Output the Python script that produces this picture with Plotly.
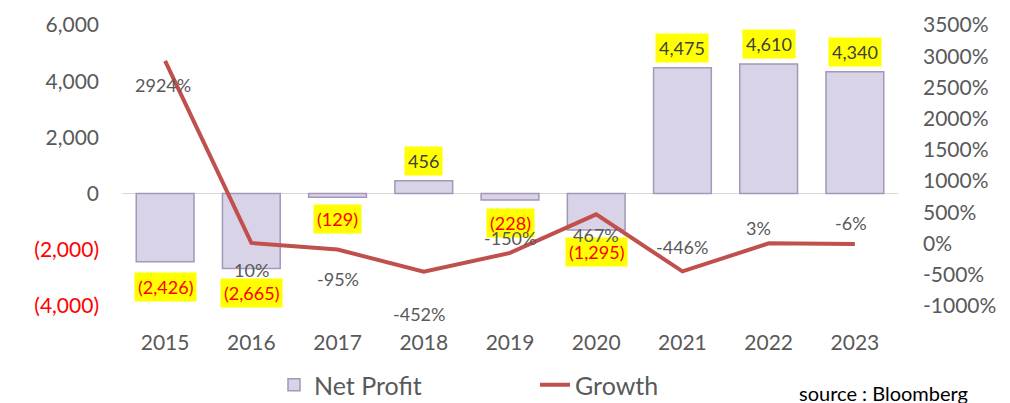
import plotly.graph_objects as go

years = ["2015", "2016", "2017", "2018", "2019", "2020", "2021", "2022", "2023"]
net_profit = [-2426, -2665, -129, 456, -228, -1295, 4475, 4610, 4340]
growth = [2924, 10, -95, -452, -150, 467, -446, 3, -6]

left_ticks = [-4000, -2000, 0, 2000, 4000, 6000]
right_ticks = [-1000, -500, 0, 500, 1000, 1500, 2000, 2500, 3000, 3500]

# label offsets (px) for readability
profit_shift = [-25, -25, -22, 20, -23, -22, 20, 20, 20]
growth_shift = [-24, -27, -30, -42, 15, -21, 24, 15, 21]
growth_xshift = [-2, 0, 0, -5, 0, 0, 0, -10, -4]

FONT = "Lato"
GRAY = "#595959"
OFF = 8  # page body offset

def fmt_profit(v):
    s = f"{abs(v):,}"
    return f"({s})" if v < 0 else s

def fmt_tick(v):
    s = f"{abs(v):,}"
    if v < 0:
        return f"<span style='color:#FF0000'>({s})</span>"
    return s

fig = go.Figure()
fig.add_trace(go.Bar(
    x=years, y=net_profit, name="Net Profit",
    marker=dict(color="#D9D3E8", line=dict(color="#A497B8", width=1.5)),
    width=0.67,
))
fig.add_trace(go.Scatter(
    x=years, y=growth, name="Growth", yaxis="y2", mode="lines",
    line=dict(color="#C0504D", width=4),
))

annotations = []
for i, (v, sh) in enumerate(zip(net_profit, profit_shift)):
    annotations.append(dict(
        x=i, y=v, xref="x", yref="y", text=fmt_profit(v), showarrow=False,
        yshift=sh, bgcolor="#FFFF00", borderpad=3,
        font=dict(family=FONT, size=18, color="#FF0000" if v < 0 else "#404040"),
    ))
for i, (g, sh, xs) in enumerate(zip(growth, growth_shift, growth_xshift)):
    annotations.append(dict(
        x=i, y=g, xref="x", yref="y2", text=f"{g}%", showarrow=False,
        yshift=sh, xshift=xs,
        font=dict(family=FONT, size=18, color=GRAY),
    ))
annotations.append(dict(
    x=(970 - 122) / 776, y=(306 - 393) / 281, xref="paper", yref="paper",
    text="source : Bloomberg", showarrow=False, xanchor="right", yanchor="middle",
    font=dict(family=FONT, size=20, color="#000000"),
))

fig.update_layout(
    width=1010, height=403,
    margin=dict(l=122 - OFF, r=1010 - (898 - OFF), t=25 - OFF, b=403 - (306 - OFF)),
    paper_bgcolor="white", plot_bgcolor="white",
    font=dict(family=FONT, color=GRAY),
    bargap=0.33,
    xaxis=dict(type="category", range=[-0.5, len(years) - 0.5], automargin=False,
               showgrid=False, showline=False, ticks="", ticklabelstandoff=22,
               tickfont=dict(family=FONT, size=21, color=GRAY)),
    yaxis=dict(range=[-4000, 6000], tickvals=left_ticks, automargin=False,
               ticktext=[fmt_tick(v) for v in left_ticks],
               showgrid=False, zeroline=True, zerolinecolor="#D9D9D9",
               zerolinewidth=1, ticks="", ticklabelstandoff=22,
               tickfont=dict(family=FONT, size=21, color=GRAY)),
    yaxis2=dict(range=[-1000, 3500], tickvals=right_ticks, automargin=False,
                ticktext=[f"{v}%" for v in right_ticks],
                overlaying="y", side="right", showgrid=False, zeroline=False,
                ticks="", ticklabelstandoff=24,
                tickfont=dict(family=FONT, size=21, color=GRAY)),
    legend=dict(orientation="h", xref="container", yref="container",
                x=(274 - OFF) / 1010, y=1 - (385 - OFF) / 403,
                xanchor="left", yanchor="middle",
                font=dict(family=FONT, size=25, color=GRAY),
                entrywidth=216, entrywidthmode="pixels"),
    annotations=annotations,
)

fig.write_html("out.html")
